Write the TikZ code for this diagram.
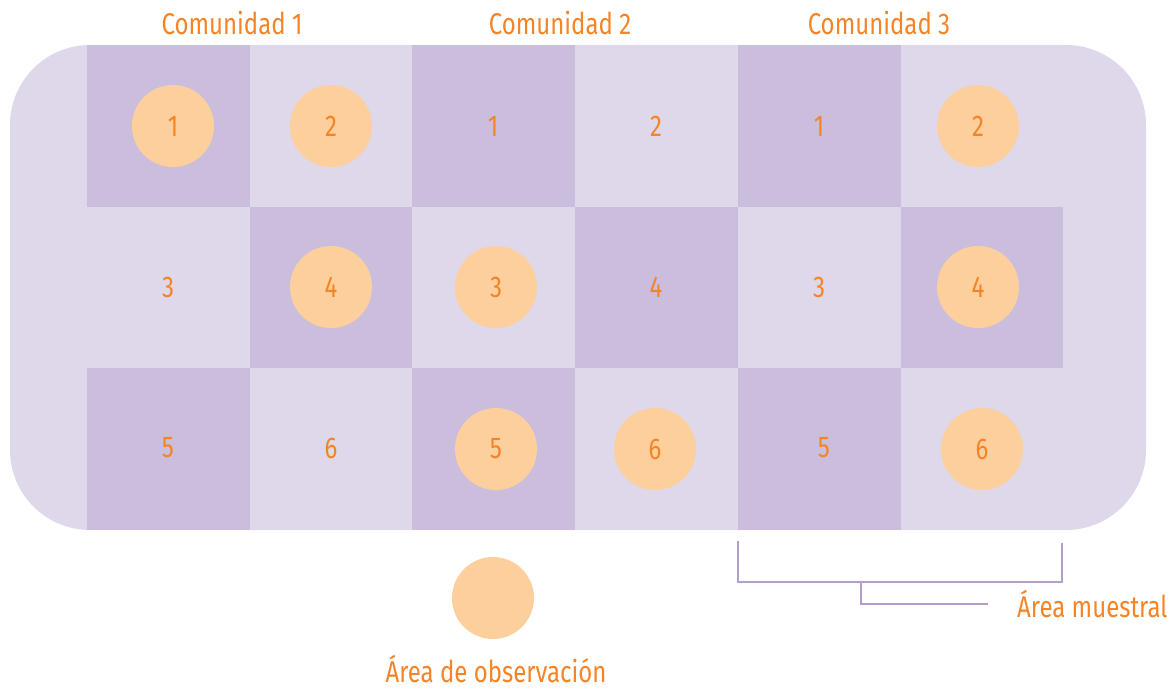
\documentclass[tikz,border=0pt]{standalone}
\usepackage{fontspec}
\setmainfont{Fira Sans}[FakeStretch=0.8]
\definecolor{bgl}{HTML}{DFD8EA}
\definecolor{dk}{HTML}{CBBEDD}
\definecolor{circ}{HTML}{FDCF9D}
\definecolor{org}{HTML}{F58426}
\definecolor{brk}{HTML}{B39DCB}
\tikzset{
  lbl/.style={text=org, font=\fontsize{30}{33}\selectfont, inner sep=0pt},
  obs/.style={lbl, circle, fill=circ, minimum size=82pt},
  num/.style={lbl},
  brline/.style={draw=brk, line width=2.6pt},
  dcell/.style={fill=dk}
}
\begin{document}
\begin{tikzpicture}[x=1pt,y=-1pt]
\useasboundingbox (0,0) rectangle (1176,690);
% background
\fill[bgl, rounded corners=80pt] (10,45) rectangle (1146,530);
% dark cells
\fill[dcell] (87,45) rectangle (250,207);
\fill[dcell] (412,45) rectangle (575,207);
\fill[dcell] (738,45) rectangle (901,207);
\fill[dcell] (250,207) rectangle (412,368);
\fill[dcell] (575,207) rectangle (738,368);
\fill[dcell] (901,207) rectangle (1063,368);
\fill[dcell] (87,368) rectangle (250,530);
\fill[dcell] (412,368) rectangle (575,530);
\fill[dcell] (738,368) rectangle (901,530);
% headers
\node[lbl] (h1) at (232,23) {Comunidad 1};
\node[lbl] (h2) at (560,23) {Comunidad 2};
\node[lbl] (h3) at (879,23) {Comunidad 3};
% row 1
\node[obs] (a11) at (173,126) {1};
\node[obs] (a12) at (331,126) {2};
\node[num] (a13) at (493,126) {1};
\node[num] (a14) at (656,126) {2};
\node[num] (a15) at (819,126) {1};
\node[obs] (a16) at (978,126) {2};
% row 2
\node[num] (a21) at (168,287) {3};
\node[obs] (a22) at (331,287) {4};
\node[obs] (a23) at (496,287) {3};
\node[num] (a24) at (656,287) {4};
\node[num] (a25) at (819,287) {3};
\node[obs] (a26) at (978,287) {4};
% row 3
\node[num] (a31) at (168,448) {5};
\node[num] (a32) at (331,448) {6};
\node[obs] (a33) at (496,449) {5};
\node[obs] (a34) at (655,449) {6};
\node[num] (a35) at (824,448) {5};
\node[obs] (a36) at (982,449) {6};
% legend
\node[obs] (leg) at (493,598) {};
\node[lbl] (legt) at (496,669) {Área de observación};
% bracket
\coordinate (bl) at (738,541);
\coordinate (br) at (1062,543);
\coordinate (bm) at (861,582);
\coordinate (be) at (988,604);
\node[lbl, anchor=west] (smp) at (1017,604) {Área muestral};
\draw[brline] (bl) |- (bm) -| (br);
\draw[brline] (bm) |- (be);
\end{tikzpicture}
\end{document}
